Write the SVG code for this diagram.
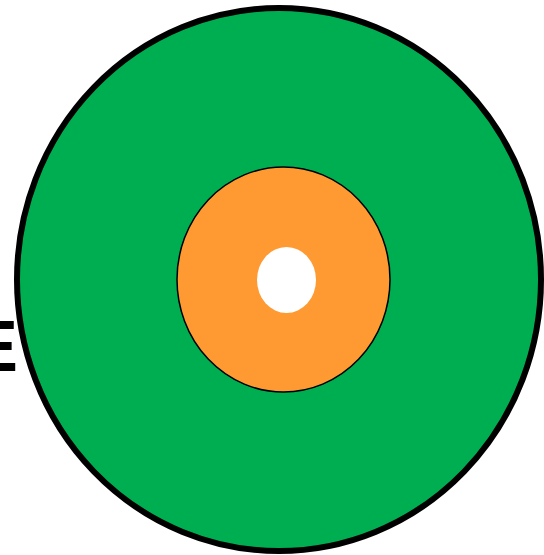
<svg xmlns="http://www.w3.org/2000/svg" width="544" height="555" viewBox="0 0 544 555">
  <style>
    .lbl { font-family: "Liberation Sans", Arial, sans-serif; font-weight: bold; font-size: 72px; fill: #000; }
  </style>
  <rect width="544" height="555" fill="#ffffff"/>
  <g id="label-e">
    <text class="lbl" x="-30" y="371">E</text>
  </g>
  <g id="outer-ring">
    <ellipse cx="279" cy="279.5" rx="262" ry="271.5" fill="#00AE52" stroke="#000" stroke-width="6"/>
  </g>
  <g id="middle-ring">
    <ellipse cx="283.5" cy="279.5" rx="106.5" ry="112.5" fill="#FF9A33" stroke="#000" stroke-width="1.5"/>
  </g>
  <g id="core">
    <ellipse cx="286.5" cy="280" rx="29.5" ry="33" fill="#ffffff"/>
  </g>
</svg>
